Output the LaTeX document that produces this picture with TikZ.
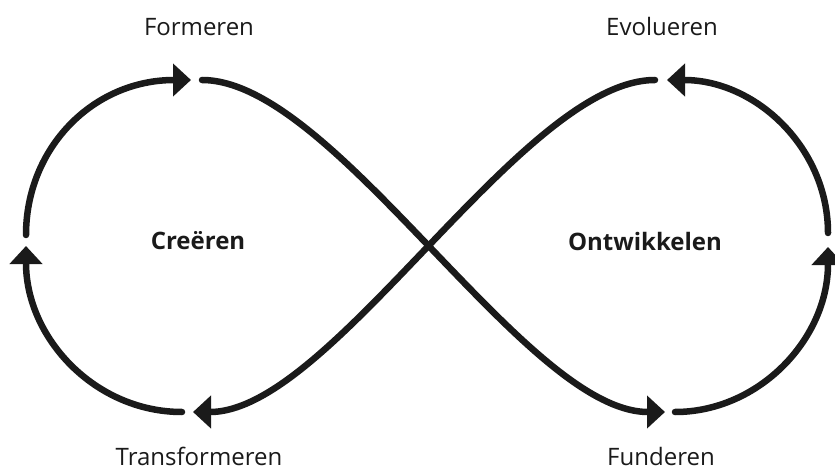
\documentclass[tikz,border=0pt]{standalone}
\usepackage{fontspec}
\setmainfont{Open Sans}
\usetikzlibrary{arrows.meta}
\definecolor{ink}{HTML}{1A1A1A}
\begin{document}
\begin{tikzpicture}[x=1pt,y=-1pt,
  loopline/.style={draw=ink,line width=6.5pt,line cap=round},
  arrowed/.style={loopline,-{Triangle[length=18pt,width=32pt]}},
  lbl/.style={font=\fontsize{24}{28}\selectfont,text=ink,inner sep=0pt},
  title/.style={font=\fontsize{24}{28}\selectfont\bfseries,text=ink,inner sep=0pt}]
\useasboundingbox (0,0) rectangle (835,473);
% labels
\node[lbl] (formeren) at (199,27) {Formeren};
\node[lbl] (evolueren) at (662,27) {Evolueren};
\node[lbl] (transformeren) at (199,456) {Transformeren};
\node[lbl] (funderen) at (661,456) {Funderen};
\node[title] (creeren) at (198,241) {Creëren};
\node[title] (ontwikkelen) at (645,241) {Ontwikkelen};
% coordinates of the loop ends
\coordinate (lA) at (26,235);
\coordinate (tA) at (191,80);
\coordinate (tB) at (202,80);
\coordinate (bB) at (665,412);
\coordinate (bC) at (675,412);
\coordinate (rC) at (828,247);
\coordinate (rD) at (828,233);
\coordinate (tD) at (667,80);
\coordinate (tE) at (655,80);
\coordinate (bE) at (193,412);
\coordinate (bF) at (182,412);
\coordinate (lF) at (26,246);
% curves
\draw[arrowed] (lA) .. controls (26,148) and (93,80) .. (tA);
\draw[arrowed] (tB) .. controls (335,80) and (525,412) .. (bB);
\draw[arrowed] (bC) .. controls (759,412) and (828,339) .. (rC);
\draw[arrowed] (rD) .. controls (828,148) and (756,80) .. (tD);
\draw[arrowed] (tE) .. controls (522,80) and (332,412) .. (bE);
\draw[arrowed] (bF) .. controls (95,412) and (26,338) .. (lF);
\end{tikzpicture}
\end{document}
